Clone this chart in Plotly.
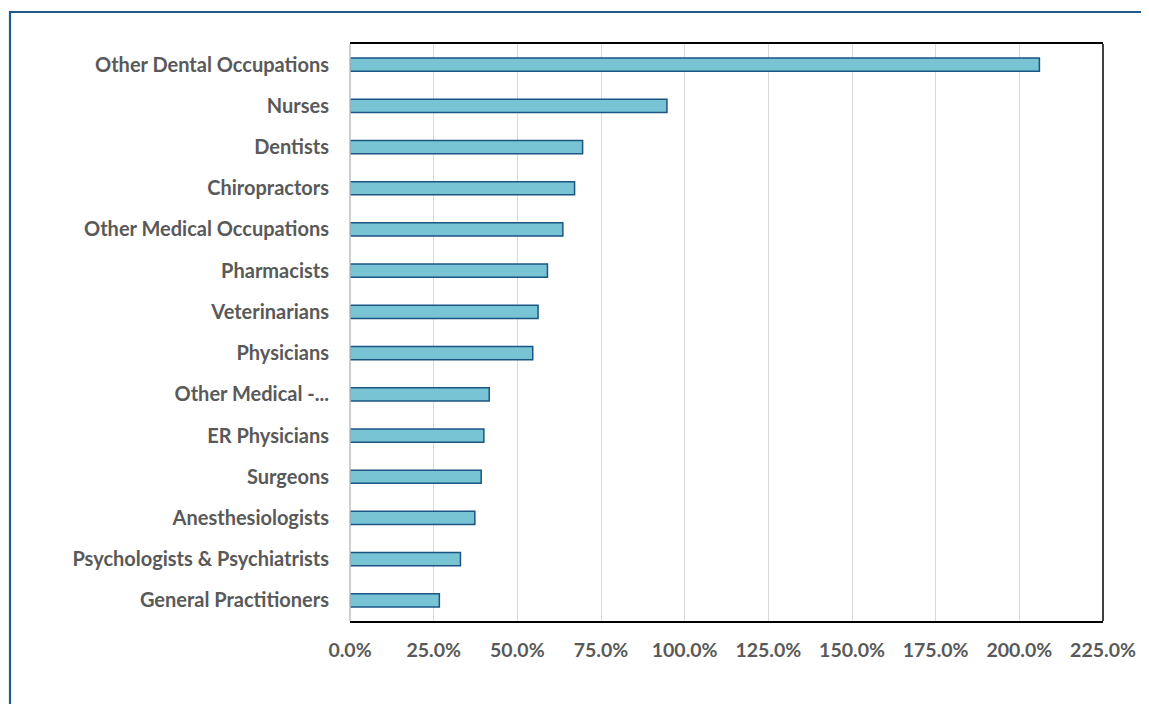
import plotly.graph_objects as go

categories = [
    "Other Dental Occupations", "Nurses", "Dentists", "Chiropractors",
    "Other Medical Occupations", "Pharmacists", "Veterinarians", "Physicians",
    "Other Medical -...", "ER Physicians", "Surgeons", "Anesthesiologists",
    "Psychologists & Psychiatrists", "General Practitioners",
]
values = [2.060, 0.947, 0.695, 0.671, 0.636, 0.590, 0.562, 0.546,
          0.416, 0.400, 0.392, 0.373, 0.330, 0.267]
tick_vals = [0, 0.25, 0.5, 0.75, 1.0, 1.25, 1.5, 1.75, 2.0, 2.25]

# page offset (body margin) and target plot area in screen pixels
OFF = 8
L, R, T, B = 350, 1103, 44, 621
W, H = 1149 - OFF, 704 - OFF
pw, ph = R - L, B - T

fig = go.Figure(go.Bar(
    y=categories[::-1], x=values[::-1], orientation="h",
    marker=dict(color="#79C4D4", line=dict(color="#1B5683", width=1.5)),
    hoverinfo="skip",
))

fig.update_layout(
    width=W, height=H,
    margin=dict(l=L - OFF, r=W + OFF - R, t=T - OFF, b=H + OFF - B, pad=0),
    paper_bgcolor="white", plot_bgcolor="white",
    bargap=0.68,
    showlegend=False,
    font=dict(family="Lato", size=20, color="#595959"),
)
fig.update_xaxes(
    range=[0, 2.25], tickvals=tick_vals, tickformat=".1%",
    showgrid=True, gridcolor="#D9D9D9", gridwidth=1.2,
    zeroline=False,
    showline=True, mirror=True, linecolor="#000000", linewidth=1.5,
    ticks="", ticklabelstandoff=11,
    tickfont=dict(family="Lato", size=19.5, color="#595959", weight="bold"),
)
fig.update_yaxes(
    showgrid=False, zeroline=False, showline=False,
    ticks="", ticklabelstandoff=20,
    tickfont=dict(family="Lato", size=20, color="#595959", weight="bold"),
)
# right edge of plot frame
fig.add_shape(type="line", xref="paper", yref="paper", x0=1, x1=1, y0=0, y1=1,
              line=dict(color="#000000", width=1.5))
# left edge (grey axis line)
fig.add_shape(type="line", xref="paper", yref="paper", x0=0, x1=0, y0=0, y1=1,
              line=dict(color="#BFBFBF", width=1.5))
# outer chart border
bx0 = (OFF + 2 - L) / pw
by1 = 1 + (T - 12) / ph
fig.add_shape(type="rect", xref="paper", yref="paper",
              x0=bx0, x1=(1149 + 10 - L) / pw, y0=-(704 + 10 - B) / ph, y1=by1,
              line=dict(color="#1F5A8A", width=2.2), layer="below")

fig.write_html("out.html")
